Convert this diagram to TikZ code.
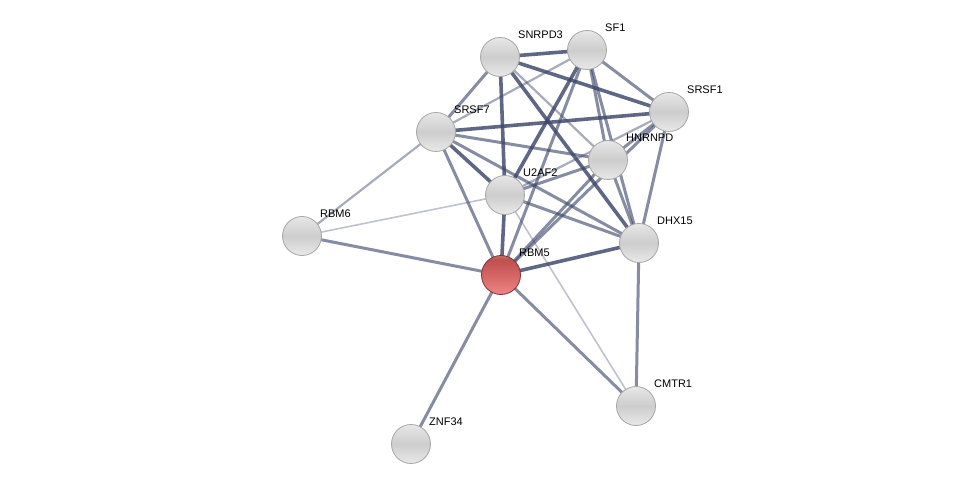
\documentclass[tikz,border=0pt]{standalone}
\usepackage{fontspec}
\setmainfont{Liberation Sans}
\definecolor{wb}{RGB}{238,238,238}
\definecolor{wm}{RGB}{205,205,205}
\definecolor{wt}{RGB}{225,225,225}
\definecolor{wh}{RGB}{250,250,250}
\definecolor{rb}{RGB}{242,140,140}
\definecolor{rm}{RGB}{214,100,100}
\definecolor{rt}{RGB}{190,80,80}
\definecolor{rh}{RGB}{235,165,165}
\pgfdeclareverticalshading{sphwhite}{100bp}{color(0bp)=(wb); color(20bp)=(wb); color(50bp)=(wm); color(70bp)=(wt); color(84bp)=(wh); color(92bp)=(wt); color(100bp)=(wm)}
\pgfdeclareverticalshading{sphred}{100bp}{color(0bp)=(rb); color(20bp)=(rb); color(50bp)=(rm); color(70bp)=(rt); color(84bp)=(rh); color(92bp)=(rm); color(100bp)=(rt)}
\begin{document}
\begin{tikzpicture}[x=1pt,y=-1pt,
  prot/.style={circle,minimum size=39pt,inner sep=0pt,shading=sphwhite,draw=gray!70,line width=0.8pt},
  protred/.style={prot,shading=sphred,draw=red!35!black!80},
  lab/.style={anchor=west,font=\fontsize{11}{13}\selectfont,inner sep=0pt},
  ethick/.style={draw=edgec,line width=3.6pt,opacity=0.82},
  emed/.style={draw=edgec,line width=3pt,opacity=0.62},
  elight/.style={draw=edgec,line width=2.2pt,opacity=0.45},
  evlight/.style={draw=edgec,line width=1.6pt,opacity=0.33}]
\definecolor{edgec}{RGB}{60,70,105}
\useasboundingbox (0,0) rectangle (975,489);
\coordinate (SNc) at (500,57);
\coordinate (SF1c) at (587,50);
\coordinate (SR1c) at (669,112);
\coordinate (S7c) at (436,132);
\coordinate (HNc) at (608,160);
\coordinate (U2c) at (505,195);
\coordinate (R6c) at (302,236);
\coordinate (DHc) at (639,243);
\coordinate (R5c) at (501,275);
\coordinate (CMc) at (636,406);
\coordinate (ZNc) at (411,444);
% edges
\draw[evlight] (U2c) -- (R6c);
\draw[evlight] (U2c) -- (CMc);
\draw[elight] (SF1c) -- (S7c);
\draw[elight] (SNc) -- (HNc);
\draw[elight] (SR1c) -- (U2c);
\draw[elight] (S7c) -- (R6c);
\draw[emed] (SNc) -- (S7c);
\draw[emed] (SF1c) -- (SR1c);
\draw[emed] (SF1c) -- (HNc);
\draw[emed] (SF1c) -- (DHc);
\draw[emed] (S7c) -- (HNc);
\draw[emed] (S7c) -- (DHc);
\draw[emed] (S7c) -- (R5c);
\draw[emed] (SR1c) -- (HNc);
\draw[emed] (SR1c) -- (DHc);
\draw[emed] (HNc) -- (U2c);
\draw[emed] (HNc) -- (DHc);
\draw[emed] (HNc) -- (R5c);
\draw[emed] (SR1c) -- (R5c);
\draw[emed] (SF1c) -- (R5c);
\draw[emed] (U2c) -- (DHc);
\draw[emed] (R5c) -- (R6c);
\draw[emed] (R5c) -- (ZNc);
\draw[emed] (R5c) -- (CMc);
\draw[emed] (DHc) -- (CMc);
\draw[ethick] (SNc) -- (SF1c);
\draw[ethick] (SNc) -- (SR1c);
\draw[ethick] (SNc) -- (U2c);
\draw[ethick] (SNc) -- (DHc);
\draw[ethick] (S7c) -- (SR1c);
\draw[ethick] (S7c) -- (U2c);
\draw[ethick] (SF1c) -- (U2c);
\draw[ethick] (R5c) -- (DHc);
\draw[ethick] (R5c) -- (U2c);
% nodes
\node[prot] (SN) at (SNc) {};
\node[prot] (SF1) at (SF1c) {};
\node[prot] (SR1) at (SR1c) {};
\node[prot] (S7) at (S7c) {};
\node[prot] (HN) at (HNc) {};
\node[prot] (U2) at (U2c) {};
\node[prot] (R6) at (R6c) {};
\node[prot] (DH) at (DHc) {};
\node[protred] (R5) at (R5c) {};
\node[prot] (CM) at (CMc) {};
\node[prot] (ZN) at (ZNc) {};
% labels
\node[lab] (SNl) at ([shift={(18,-22)}]SNc) {SNRPD3};
\node[lab] (SF1l) at ([shift={(18,-22)}]SF1c) {SF1};
\node[lab] (SR1l) at ([shift={(18,-22)}]SR1c) {SRSF1};
\node[lab] (S7l) at ([shift={(18,-22)}]S7c) {SRSF7};
\node[lab] (HNl) at ([shift={(18,-22)}]HNc) {HNRNPD};
\node[lab] (U2l) at ([shift={(18,-22)}]U2c) {U2AF2};
\node[lab] (R6l) at ([shift={(18,-22)}]R6c) {RBM6};
\node[lab] (DHl) at ([shift={(18,-22)}]DHc) {DHX15};
\node[lab] (R5l) at ([shift={(18,-22)}]R5c) {RBM5};
\node[lab] (CMl) at ([shift={(18,-22)}]CMc) {CMTR1};
\node[lab] (ZNl) at ([shift={(18,-22)}]ZNc) {ZNF34};
\end{tikzpicture}
\end{document}
